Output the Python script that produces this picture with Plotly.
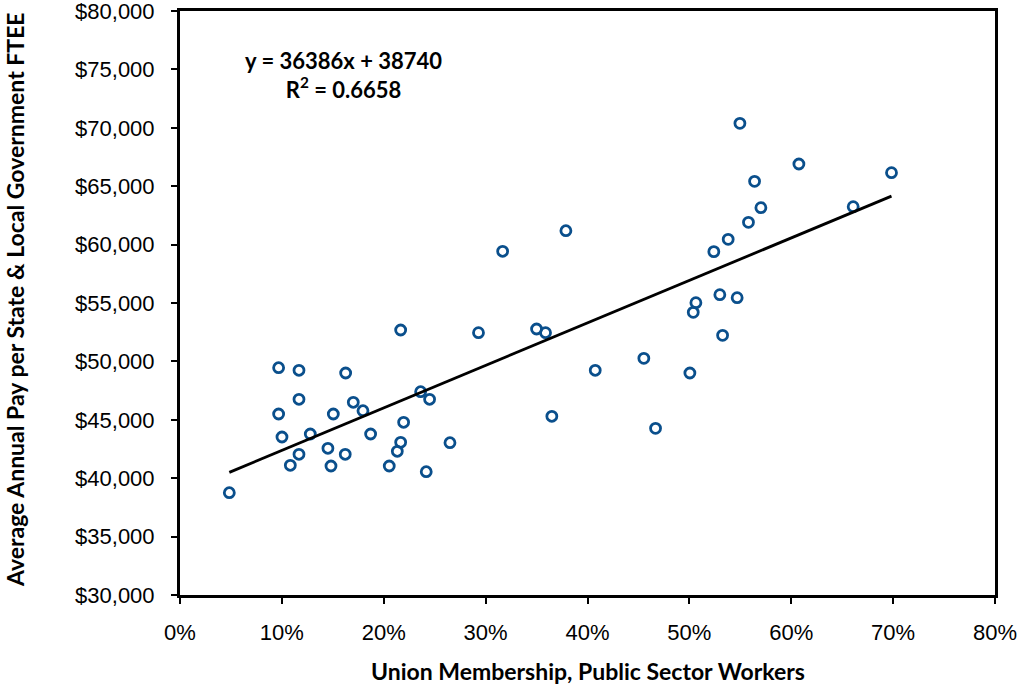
import plotly.graph_objects as go

# Union membership (fraction) and average annual pay per FTEE
union_share = [0.0484, 0.0968, 0.1168, 0.1626, 0.2166, 0.2930, 0.1168, 0.0968, 0.1505, 0.1701,
               0.1796, 0.2362, 0.2450, 0.1001, 0.1279, 0.1871, 0.2195, 0.1452, 0.2166, 0.2133,
               0.2650, 0.1168, 0.1622, 0.1083, 0.1482, 0.2054, 0.2417, 0.3788, 0.3167, 0.3500,
               0.3588, 0.4076, 0.4553, 0.5005, 0.3650, 0.4668, 0.5038, 0.5064, 0.5496, 0.6075,
               0.6984, 0.5640, 0.5702, 0.6608, 0.5580, 0.5381, 0.5240, 0.5299, 0.5469, 0.5326]
avg_pay = [38759, 49461, 49238, 49007, 52688, 52460, 46755, 45497, 45497, 46498,
           45779, 47406, 46755, 43527, 43784, 43784, 44784, 42560, 43073, 42303,
           43039, 42046, 42046, 41104, 41045, 41045, 40557, 61190, 59426, 52774,
           52460, 49238, 50263, 49007, 45300, 44270, 54201, 55029, 70382, 66901,
           66159, 65416, 63162, 63248, 61906, 60451, 59396, 55714, 55457, 52232]

slope = 36386
intercept = 38740
r_squared = 0.6658

x_ticks = [0, 0.1, 0.2, 0.3, 0.4, 0.5, 0.6, 0.7, 0.8]
y_ticks = [30000, 35000, 40000, 45000, 50000, 55000, 60000, 65000, 70000, 75000, 80000]

x_title = "Union Membership, Public Sector Workers"
y_title = "Average Annual Pay per State & Local Government FTEE"

x_line = [min(union_share), max(union_share)]
y_line = [slope * v + intercept for v in x_line]

bold_font = dict(family="Lato, 'Open Sans', sans-serif", size=23, color="black", weight="bold")

fig = go.Figure()
fig.add_trace(go.Scatter(
    x=union_share, y=avg_pay, mode="markers",
    marker=dict(symbol="circle-open", size=10, color="#0A4F8C",
                line=dict(width=2.8, color="#0A4F8C")),
    showlegend=False, hoverinfo="skip"))
fig.add_trace(go.Scatter(
    x=x_line, y=y_line, mode="lines",
    line=dict(color="black", width=2.8),
    showlegend=False, hoverinfo="skip"))

fig.add_annotation(
    x=0.16, y=74560, xref="x", yref="y",
    text=f"y = {slope}x + {intercept}<br>R<sup>2</sup> = {r_squared}",
    showarrow=False, align="center", yanchor="middle",
    font=dict(family="Lato, 'Open Sans', sans-serif", size=22, color="black", weight="bold"))

fig.add_annotation(
    x=0.5, y=0, xref="paper", yref="paper", xanchor="center", yanchor="middle",
    yshift=-76, text=x_title, showarrow=False, font=bold_font)
fig.add_annotation(
    x=0, y=0.5, xref="paper", yref="paper", xanchor="center", yanchor="middle",
    xshift=-165, yshift=3, text=y_title, textangle=-90, showarrow=False, font=bold_font)

axis_common = dict(
    showline=True, linecolor="black", linewidth=3, mirror=True,
    ticks="outside", ticklen=6, tickwidth=2, tickcolor="black",
    showgrid=False, zeroline=False, automargin=False, ticklabeloverflow="allow",
    tickfont=dict(family="Liberation Sans, Arial, sans-serif", size=22, color="black"),
)

fig.update_layout(
    width=1018, height=684,
    margin=dict(l=180, r=23, t=11, b=89),
    paper_bgcolor="white", plot_bgcolor="white",
    xaxis=dict(range=[0, 0.8], tickvals=x_ticks, tickformat=".0%",
               ticklabelstandoff=10, **axis_common),
    yaxis=dict(range=[30000, 80000], tickvals=y_ticks, tickformat="$,.0f",
               ticklabelstandoff=12, **axis_common),
)

fig.write_html("out.html", config={"displayModeBar": False},
               post_script="document.body.style.margin='0px';")
